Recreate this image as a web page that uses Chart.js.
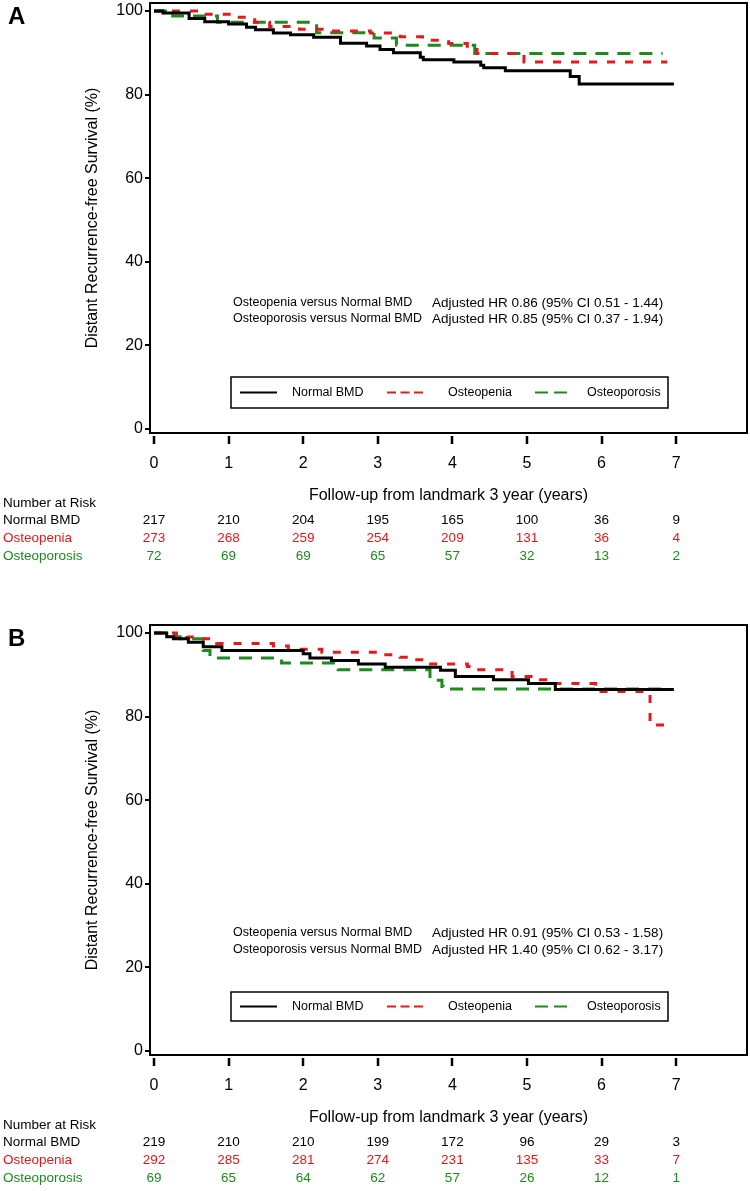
<!DOCTYPE html>
<html>
<head>
<meta charset="utf-8">
<script src="https://cdn.jsdelivr.net/npm/chart.js@4.4.0/dist/chart.umd.min.js"></script>
<style>
  body { margin: 0; background: #fff; }
  #wrap { position: relative; width: 750px; height: 1191px; }
  canvas { position: absolute; left: 0; }
  #chartA { top: 0; }
  #chartB { top: 622px; }
</style>
</head>
<body>
<div id="wrap">
  <canvas id="chartA" width="750" height="600"></canvas>
  <canvas id="chartB" width="750" height="569"></canvas>
</div>
<script>
const years = [0, 1, 2, 3, 4, 5, 6, 7];
const survivalTicks = [0, 20, 40, 60, 80, 100];
const groupNames = ['Normal BMD', 'Osteopenia', 'Osteoporosis'];
const groupColors = ['#000000', '#e3191c', '#1e8a1e'];
const groupDashes = [[], [8, 10], [13, 9]];
const hrLabels = ['Osteopenia versus Normal BMD', 'Osteoporosis versus Normal BMD'];

// Panel A
const aNormalTime = [0, 0.12, 0.47, 0.68, 1.0, 1.24, 1.36, 1.6, 1.83, 2.14, 2.5, 2.85, 3.03, 3.21, 3.57, 3.61, 4.02, 4.38, 4.42, 4.71, 5.58, 5.7, 6.97];
const aNormalSurv = [100, 99.5, 98.2, 97.4, 96.9, 96.1, 95.5, 94.7, 94.3, 93.7, 92.3, 91.6, 90.8, 90.0, 88.9, 88.3, 87.8, 87.0, 86.4, 85.7, 84.3, 82.5, 82.5];
const aOsteopeniaTime = [0, 0.7, 1.05, 1.35, 1.55, 1.95, 2.3, 2.9, 3.3, 3.6, 3.95, 4.2, 4.33, 4.96, 6.88];
const aOsteopeniaSurv = [100, 99.2, 98.5, 97.3, 96.3, 95.6, 95.2, 94.7, 93.8, 93.0, 92.2, 91.2, 89.8, 87.8, 87.8];
const aOsteoporosisTime = [0, 0.25, 0.85, 2.18, 2.95, 3.25, 4.3, 6.82];
const aOsteoporosisSurv = [100, 98.8, 97.3, 94.8, 93.5, 91.8, 89.8, 89.8];
const aRiskNormal = [217, 210, 204, 195, 165, 100, 36, 9];
const aRiskOsteopenia = [273, 268, 259, 254, 209, 131, 36, 4];
const aRiskOsteoporosis = [72, 69, 69, 65, 57, 32, 13, 2];
const aHrValues = ['Adjusted HR 0.86 (95% CI 0.51 - 1.44)', 'Adjusted HR 0.85 (95% CI 0.37 - 1.94)'];

// Panel B
const bNormalTime = [0, 0.17, 0.26, 0.46, 0.66, 0.91, 2.0, 2.09, 2.38, 2.74, 3.1, 3.84, 4.04, 4.55, 5.02, 5.38, 6.97];
const bNormalSurv = [100, 99.1, 98.6, 97.8, 96.7, 95.8, 95.0, 94.0, 93.4, 92.6, 91.8, 91.1, 89.6, 88.8, 87.9, 86.5, 86.5];
const bOsteopeniaTime = [0, 0.3, 0.44, 0.62, 0.84, 1.6, 1.8, 2.25, 3.08, 3.3, 3.48, 3.61, 4.2, 4.25, 4.8, 5.18, 5.36, 5.92, 6.65, 6.88];
const bOsteopeniaSurv = [100, 99.4, 99.0, 98.6, 97.5, 96.9, 96.1, 95.4, 94.8, 94.2, 93.6, 92.6, 92.0, 91.2, 89.6, 88.8, 87.9, 86.0, 78.0, 78.0];
const bOsteoporosisTime = [0, 0.28, 0.35, 0.66, 0.75, 1.71, 2.47, 3.7, 3.86, 3.88, 6.81];
const bOsteoporosisSurv = [100, 99.1, 98.6, 95.8, 94.0, 92.8, 91.2, 88.7, 87.2, 86.6, 86.6];
const bRiskNormal = [219, 210, 210, 199, 172, 96, 29, 3];
const bRiskOsteopenia = [292, 285, 281, 274, 231, 135, 33, 7];
const bRiskOsteoporosis = [69, 65, 64, 62, 57, 26, 12, 1];
const bHrValues = ['Adjusted HR 0.91 (95% CI 0.53 - 1.58)', 'Adjusted HR 1.40 (95% CI 0.62 - 3.17)'];

const fontFamily = '"Liberation Sans", Arial, sans-serif';
Chart.defaults.font.family = fontFamily;
Chart.defaults.color = '#000';

function toPoints(times, surv) {
  return times.map((t, i) => ({ x: t, y: surv[i] }));
}

// frame, x ticks, HR text, legend box and the number-at-risk table
const panelDecor = {
  id: 'panelDecor',
  afterDatasetsDraw(chart, args, opts) {
    const ctx = chart.ctx;
    const area = chart.chartArea;
    const xs = chart.scales.x;
    ctx.save();
    ctx.strokeStyle = '#000';
    ctx.lineWidth = 2;
    ctx.strokeRect(area.left, area.top, area.right - area.left, area.bottom - area.top);

    ctx.lineWidth = 2.5;
    years.forEach(v => {
      const px = Math.round(xs.getPixelForValue(v));
      ctx.beginPath();
      ctx.moveTo(px, area.bottom + 3);
      ctx.lineTo(px, area.bottom + 11);
      ctx.stroke();
    });

    ctx.fillStyle = '#000';
    ctx.font = 'bold 24px ' + fontFamily;
    ctx.textBaseline = 'alphabetic';
    ctx.textAlign = 'left';
    ctx.fillText(opts.letter, 8, 24);

    ctx.textBaseline = 'middle';
    opts.hrValues.forEach((txt, i) => {
      ctx.font = '12.5px ' + fontFamily;
      ctx.fillText(hrLabels[i], 233, opts.hrY[i]);
      ctx.font = '13.5px ' + fontFamily;
      ctx.fillText(txt, 432, opts.hrY[i]);
    });

    const lg = opts.legend;
    ctx.lineWidth = 1.5;
    ctx.strokeRect(231, lg.top, 437, lg.bottom - lg.top);
    const cy = (lg.top + lg.bottom) / 2;
    const samples = [[240, 277], [387, 423], [535, 567]];
    const sampleDash = [[], [9, 4.5], [13, 6]];
    const labelX = [292, 448, 587];
    ctx.font = '12.5px ' + fontFamily;
    groupNames.forEach((g, i) => {
      ctx.strokeStyle = groupColors[i];
      ctx.lineWidth = 2;
      ctx.setLineDash(sampleDash[i]);
      ctx.beginPath();
      ctx.moveTo(samples[i][0], cy);
      ctx.lineTo(samples[i][1], cy);
      ctx.stroke();
      ctx.setLineDash([]);
      ctx.fillStyle = '#000';
      ctx.fillText(g, labelX[i], cy);
    });

    ctx.font = '13.5px ' + fontFamily;
    ctx.fillStyle = '#000';
    ctx.fillText('Number at Risk', 3, opts.riskY[0]);
    opts.risk.forEach((row, i) => {
      ctx.fillStyle = groupColors[i];
      ctx.textAlign = 'left';
      ctx.fillText(groupNames[i], 3, opts.riskY[i + 1]);
      ctx.textAlign = 'center';
      row.forEach((n, j) => {
        ctx.fillText(String(n), xs.getPixelForValue(years[j]), opts.riskY[i + 1]);
      });
    });
    ctx.restore();
  }
};

function makePanel(id, curves, decor) {
  const canvas = document.getElementById(id);
  const datasets = curves.map((pts, i) => ({
    label: groupNames[i],
    data: pts,
    borderColor: groupColors[i],
    borderWidth: 3,
    borderDash: groupDashes[i],
    stepped: 'before',
    pointRadius: 0,
    fill: false
  }));

  return new Chart(canvas, {
    type: 'line',
    data: { datasets },
    options: {
      responsive: false,
      animation: false,
      layout: { padding: { left: 0, right: 3, top: 3, bottom: canvas.height - 433 - 72 } },
      plugins: {
        legend: { display: false },
        tooltip: { enabled: false },
        panelDecor: decor
      },
      scales: {
        x: {
          type: 'linear',
          min: -0.054,
          max: 7.95,
          afterBuildTicks: s => { s.ticks = years.map(v => ({ value: v })); },
          afterFit: s => { s.height = 72; s.paddingLeft = 0; s.paddingRight = 0; },
          grid: { display: false, drawTicks: false },
          border: { display: false },
          ticks: { padding: 21, autoSkip: false, maxRotation: 0, font: { size: 16 } },
          title: {
            display: true,
            text: 'Follow-up from landmark 3 year (years)',
            font: { size: 16 },
            padding: { top: 0, bottom: 0 }
          }
        },
        y: {
          type: 'linear',
          min: -0.96,
          max: 101.9,
          afterBuildTicks: s => { s.ticks = survivalTicks.map(v => ({ value: v })); },
          afterFit: s => { s.width = 150; s.paddingTop = 0; s.paddingBottom = 0; },
          grid: { display: true, drawOnChartArea: false, tickLength: 5, lineWidth: 2, color: '#000' },
          border: { display: false },
          ticks: { padding: 2, font: { size: 16 } },
          title: {
            display: true,
            text: 'Distant Recurrence-free Survival (%)',
            font: { size: 16 },
            padding: { top: 83, bottom: 0 }
          }
        }
      }
    },
    plugins: [panelDecor]
  });
}

makePanel('chartA', [
  toPoints(aNormalTime, aNormalSurv),
  toPoints(aOsteopeniaTime, aOsteopeniaSurv),
  toPoints(aOsteoporosisTime, aOsteoporosisSurv)
], {
  letter: 'A',
  hrValues: aHrValues,
  hrY: [303, 319],
  legend: { top: 377, bottom: 408 },
  risk: [aRiskNormal, aRiskOsteopenia, aRiskOsteoporosis],
  riskY: [503, 520, 538, 556]
});

makePanel('chartB', [
  toPoints(bNormalTime, bNormalSurv),
  toPoints(bOsteopeniaTime, bOsteopeniaSurv),
  toPoints(bOsteoporosisTime, bOsteoporosisSurv)
], {
  letter: 'B',
  hrValues: bHrValues,
  hrY: [311, 328],
  legend: { top: 370, bottom: 399 },
  risk: [bRiskNormal, bRiskOsteopenia, bRiskOsteoporosis],
  riskY: [503, 520, 538, 556]
});
</script>
</body>
</html>
